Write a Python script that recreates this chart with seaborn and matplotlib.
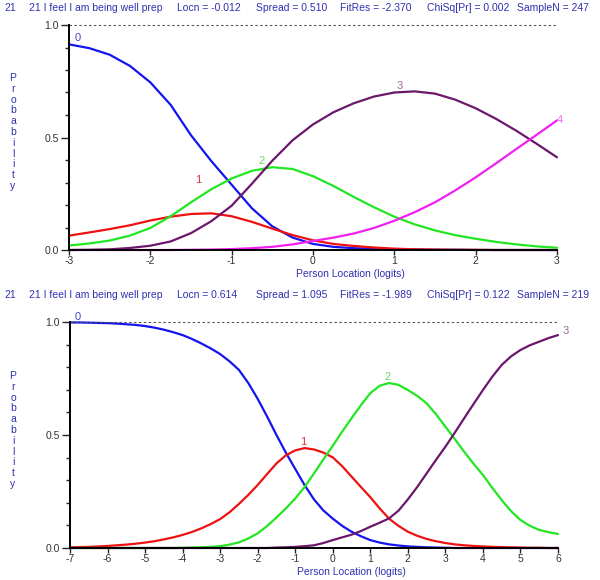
import numpy as np
import pandas as pd
import matplotlib
matplotlib.use("Agg")
import matplotlib.pyplot as plt
import seaborn as sns
from matplotlib.ticker import MultipleLocator

# ---------------- data ----------------
top_x = [-3, -2.75, -2.5, -2.25, -2, -1.75, -1.5, -1.25, -1, -0.75, -0.5, -0.25, 0,
         0.25, 0.5, 0.75, 1, 1.25, 1.5, 1.75, 2, 2.25, 2.5, 2.75, 3]
top_cat0 = [0.914, 0.897, 0.868, 0.818, 0.745, 0.645, 0.510, 0.395, 0.290, 0.185, 0.105, 0.055, 0.027,
            0.014, 0.008, 0.005, 0.003, 0.002, 0.001, 0.001, 0.0, 0.0, 0.0, 0.0, 0.0]
top_cat1 = [0.064, 0.078, 0.093, 0.110, 0.131, 0.148, 0.160, 0.163, 0.150, 0.125, 0.095, 0.066, 0.043,
            0.027, 0.018, 0.011, 0.006, 0.003, 0.002, 0.001, 0.001, 0.0, 0.0, 0.0, 0.0]
top_cat2 = [0.020, 0.029, 0.042, 0.064, 0.098, 0.150, 0.212, 0.270, 0.318, 0.352, 0.368, 0.360, 0.328,
            0.285, 0.236, 0.190, 0.148, 0.114, 0.087, 0.066, 0.050, 0.036, 0.025, 0.016, 0.010]
top_cat3 = [0.0, 0.001, 0.003, 0.009, 0.019, 0.038, 0.075, 0.128, 0.197, 0.295, 0.397, 0.488, 0.558,
            0.612, 0.652, 0.682, 0.700, 0.705, 0.695, 0.668, 0.630, 0.583, 0.530, 0.472, 0.412]
top_cat4 = [0.0, 0.0, 0.0, 0.0, 0.0, 0.0, 0.001, 0.002, 0.004, 0.008, 0.014, 0.025, 0.040,
            0.055, 0.073, 0.098, 0.130, 0.168, 0.212, 0.265, 0.323, 0.385, 0.449, 0.512, 0.576]

bot_x = [-7, -6.75, -6.5, -6.25, -6, -5.75, -5.5, -5.25, -5, -4.75, -4.5, -4.25,
         -4, -3.75, -3.5, -3.25, -3, -2.75, -2.5, -2.25, -2, -1.75, -1.5, -1.25,
         -1, -0.75, -0.5, -0.25, 0, 0.25, 0.5, 0.75, 1, 1.25, 1.5, 1.75,
         2, 2.25, 2.5, 2.75, 3, 3.25, 3.5, 3.75, 4, 4.25, 4.5, 4.75,
         5, 5.25, 5.5, 5.75, 6]
bot_cat0 = [0.998, 0.998, 0.997, 0.996, 0.995, 0.993, 0.990, 0.987, 0.982, 0.975, 0.966, 0.955,
            0.942, 0.925, 0.905, 0.883, 0.858, 0.826, 0.788, 0.730, 0.660, 0.582, 0.500, 0.422,
            0.350, 0.278, 0.215, 0.166, 0.130, 0.098, 0.072, 0.052, 0.035, 0.024, 0.016, 0.011,
            0.007, 0.005, 0.003, 0.002, 0.001, 0.0, 0.0, 0.0, 0.0, 0.0, 0.0, 0.0,
            0.0, 0.0, 0.0, 0.0, 0.0]
bot_cat1 = [0.003, 0.004, 0.005, 0.007, 0.009, 0.012, 0.015, 0.019, 0.024, 0.030, 0.038, 0.047,
            0.058, 0.071, 0.087, 0.106, 0.128, 0.158, 0.195, 0.235, 0.279, 0.327, 0.374, 0.410,
            0.432, 0.442, 0.436, 0.422, 0.401, 0.362, 0.316, 0.270, 0.225, 0.175, 0.130, 0.098,
            0.072, 0.054, 0.040, 0.030, 0.022, 0.016, 0.012, 0.009, 0.007, 0.005, 0.004, 0.003,
            0.002, 0.001, 0.001, 0.0, 0.0]
bot_cat2 = [0.0, 0.0, 0.0, 0.0, 0.0, 0.0, 0.0, 0.0, 0.0, 0.0, 0.0, 0.0,
            0.001, 0.002, 0.003, 0.005, 0.008, 0.015, 0.025, 0.042, 0.065, 0.097, 0.135, 0.175,
            0.219, 0.270, 0.330, 0.392, 0.452, 0.515, 0.574, 0.632, 0.685, 0.718, 0.730, 0.722,
            0.699, 0.673, 0.640, 0.592, 0.537, 0.482, 0.426, 0.373, 0.323, 0.266, 0.212, 0.163,
            0.124, 0.098, 0.080, 0.070, 0.062]
bot_cat3 = [0.0, 0.0, 0.0, 0.0, 0.0, 0.0, 0.0, 0.0, 0.0, 0.0, 0.0, 0.0,
            0.0, 0.0, 0.0, 0.0, 0.0, 0.0, 0.0, 0.0, 0.0, 0.0, 0.002, 0.003,
            0.005, 0.008, 0.012, 0.022, 0.035, 0.047, 0.059, 0.075, 0.094, 0.112, 0.131, 0.165,
            0.215, 0.270, 0.330, 0.390, 0.448, 0.510, 0.574, 0.637, 0.699, 0.758, 0.810, 0.848,
            0.876, 0.897, 0.913, 0.929, 0.942]

top_title = ["21", "21 I feel I am being well prep", "Locn = -0.012", "Spread = 0.510",
             "FitRes = -2.370", "ChiSq[Pr] = 0.002", "SampleN = 247"]
bot_title = ["21", "21 I feel I am being well prep", "Locn = 0.614", "Spread = 1.095",
             "FitRes = -1.989", "ChiSq[Pr] = 0.122", "SampleN = 219"]
top_xticks = [-3, -2, -1, 0, 1, 2, 3]
bot_xticks = [-7, -6, -5, -4, -3, -2, -1, 0, 1, 2, 3, 4, 5, 6]
y_label = "Probability"
x_label = "Person Location (logits)"

# ---------------- styles ----------------
line_colors = {"0": "#1414f0", "1": "#ee1111", "2": "#22e622", "3": "#6b176b", "4": "#f020f0"}
label_colors = {"0": "#4848c0", "1": "#dd3333", "2": "#66d866", "3": "#9a6a9a", "4": "#ee66ee"}
text_blue = "#3030b0"

sns.set_style("white")
plt.rcParams["font.family"] = ["Liberation Sans", "DejaVu Sans"]

fig = plt.figure(figsize=(6, 5.8), dpi=100)

def fx(px):
    return px / 600.0

def fy(py):
    return 1 - py / 580.0

ax1 = fig.add_axes([fx(69), fy(250), 488 / 600, 225 / 580])
ax2 = fig.add_axes([fx(70), fy(548), 488 / 600, 226 / 580])


def draw(ax, xs, series, xticks):
    frames = []
    for name, vals in series.items():
        frames.append(pd.DataFrame({"x": xs, "p": vals, "cat": name}))
    df = pd.concat(frames, ignore_index=True)
    sns.lineplot(data=df, x="x", y="p", hue="cat", palette=line_colors,
                 estimator=None, legend=False, linewidth=1.6, ax=ax)
    for ln in ax.lines:
        ln.set_clip_on(False)
        ln.set_solid_joinstyle("round")
    ax.axhline(1.0, color="#555555", lw=0.8, ls=(0, (2.2, 2.2)), clip_on=False)
    ax.set_xlim(xs[0], xs[-1])
    ax.set_ylim(0, 1)
    ax.set_xlabel("")
    ax.set_ylabel("")
    for s in ["top", "right"]:
        ax.spines[s].set_visible(False)
    for s in ["left", "bottom"]:
        ax.spines[s].set_color("black")
        ax.spines[s].set_linewidth(1.4)
    ax.set_yticks([0, 0.5, 1.0])
    ax.set_yticklabels(["0.0", "0.5", "1.0"])
    ax.yaxis.set_minor_locator(MultipleLocator(0.1))
    ax.set_xticks(xticks)
    ax.set_xticklabels([str(t) for t in xticks])
    ax.tick_params(axis="y", which="major", length=6, width=1, direction="out",
                   left=True, labelsize=7.5, labelcolor="#333333", pad=1.5)
    ax.tick_params(axis="y", which="minor", length=3, width=1, direction="out", left=True)
    ax.tick_params(axis="x", which="major", length=3.5, width=1, direction="out",
                   bottom=True, labelsize=7.5, labelcolor="#333333", pad=1)
    ax.patch.set_alpha(0)


draw(ax1, top_x, {"0": top_cat0, "1": top_cat1, "2": top_cat2, "3": top_cat3, "4": top_cat4}, top_xticks)
draw(ax2, bot_x, {"0": bot_cat0, "1": bot_cat1, "2": bot_cat2, "3": bot_cat3}, bot_xticks)

# category labels on the curves
def clabel(px, py, s):
    fig.text(fx(px), fy(py), s, color=label_colors[s], fontsize=8, ha="center", va="center")

clabel(78, 38, "0")
clabel(198, 180, "1")
clabel(262, 161, "2")
clabel(400, 86, "3")
clabel(560, 120, "4")

clabel(78, 317, "0")
clabel(303, 442, "1")
clabel(388, 377, "2")
clabel(566, 331, "3")

# header lines
title_px = [4, 29, 177, 256, 340, 427, 517]
for px, s in zip(title_px, top_title):
    fig.text(fx(px), fy(8), s, color=text_blue, fontsize=7.5, ha="left", va="center")
for px, s in zip(title_px, bot_title):
    fig.text(fx(px), fy(295), s, color=text_blue, fontsize=7.5, ha="left", va="center")

# stacked y labels
for cy in (132, 430):
    fig.text(fx(13), fy(cy), "\n".join(y_label), color=text_blue, fontsize=7.5,
             ha="center", va="center", linespacing=1.1)

# x labels
fig.text(fx(350), fy(274), x_label, color=text_blue, fontsize=7.5, ha="center", va="center")
fig.text(fx(351), fy(572), x_label, color=text_blue, fontsize=7.5, ha="center", va="center")

fig.savefig("out.png", dpi=100)
